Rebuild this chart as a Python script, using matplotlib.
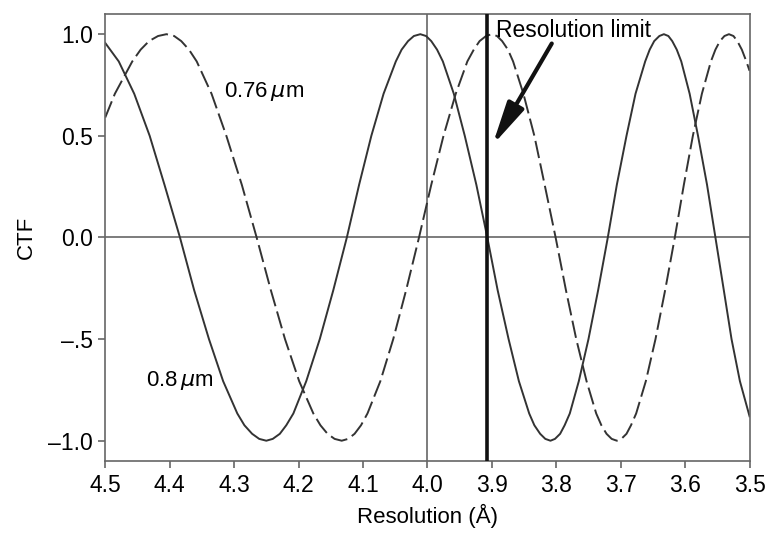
import matplotlib.pyplot as plt

plt.rcParams['font.family'] = ['Liberation Sans', 'DejaVu Sans']

# CTF curves (resolution in Angstrom, CTF value)
res_08 = [4.500, 4.479, 4.455, 4.431, 4.408, 4.384,
          4.362, 4.339, 4.317, 4.295, 4.284, 4.272, 4.261, 4.250,
          4.240, 4.229, 4.219, 4.208, 4.188, 4.167, 4.146, 4.125,
          4.106, 4.087, 4.068, 4.049, 4.040, 4.030, 4.021, 4.011,
          4.002, 3.994, 3.985, 3.976, 3.959, 3.942, 3.924, 3.907,
          3.891, 3.874, 3.858, 3.842, 3.834, 3.825, 3.817, 3.809,
          3.802, 3.794, 3.787, 3.779, 3.765, 3.750, 3.735, 3.720,
          3.706, 3.691, 3.677, 3.662, 3.655, 3.648, 3.640, 3.633,
          3.626, 3.620, 3.613, 3.606, 3.593, 3.580, 3.566, 3.553,
          3.540, 3.528, 3.515, 3.500]
ctf_08 = [0.957, 0.866, 0.707, 0.500, 0.259, 0.0,
          -0.259, -0.500, -0.707, -0.866, -0.924, -0.966, -0.991, -1.0,
          -0.991, -0.966, -0.924, -0.866, -0.707, -0.500, -0.259, 0.0,
          0.259, 0.500, 0.707, 0.866, 0.924, 0.966, 0.991, 1.0,
          0.991, 0.966, 0.924, 0.866, 0.707, 0.500, 0.259, 0.0,
          -0.259, -0.500, -0.707, -0.866, -0.924, -0.966, -0.991, -1.0,
          -0.991, -0.966, -0.924, -0.866, -0.707, -0.500, -0.259, 0.0,
          0.259, 0.500, 0.707, 0.866, 0.924, 0.966, 0.991, 1.0,
          0.991, 0.966, 0.924, 0.866, 0.707, 0.500, 0.259, 0.0,
          -0.259, -0.500, -0.707, -0.880]

res_076 = [4.500, 4.485, 4.458, 4.445, 4.432, 4.418, 4.405,
           4.393, 4.382, 4.370, 4.358, 4.335, 4.312, 4.288, 4.265,
           4.243, 4.221, 4.199, 4.177, 4.166, 4.155, 4.144, 4.133,
           4.123, 4.113, 4.103, 4.093, 4.073, 4.053, 4.033, 4.013,
           3.994, 3.975, 3.956, 3.938, 3.928, 3.919, 3.909, 3.900,
           3.892, 3.884, 3.875, 3.867, 3.851, 3.834, 3.818, 3.801,
           3.785, 3.769, 3.753, 3.738, 3.730, 3.722, 3.714, 3.706,
           3.699, 3.691, 3.684, 3.676, 3.661, 3.646, 3.631, 3.616,
           3.602, 3.588, 3.574, 3.560, 3.553, 3.546, 3.539, 3.532,
           3.525, 3.519, 3.512, 3.505, 3.500]
ctf_076 = [0.590, 0.707, 0.866, 0.924, 0.966, 0.991, 1.0,
           0.991, 0.966, 0.924, 0.866, 0.707, 0.500, 0.259, 0.0,
           -0.259, -0.500, -0.707, -0.866, -0.924, -0.966, -0.991, -1.0,
           -0.991, -0.966, -0.924, -0.866, -0.707, -0.500, -0.259, 0.0,
           0.259, 0.500, 0.707, 0.866, 0.924, 0.966, 0.991, 1.0,
           0.991, 0.966, 0.924, 0.866, 0.707, 0.500, 0.259, 0.0,
           -0.259, -0.500, -0.707, -0.866, -0.924, -0.966, -0.991, -1.0,
           -0.991, -0.966, -0.924, -0.866, -0.707, -0.500, -0.259, 0.0,
           0.259, 0.500, 0.707, 0.866, 0.924, 0.966, 0.991, 1.0,
           0.991, 0.966, 0.924, 0.866, 0.820]

res_limit = 3.907
x_ticks = [4.5, 4.4, 4.3, 4.2, 4.1, 4.0, 3.9, 3.8, 3.7, 3.6, 3.5]
y_ticks = [1.0, 0.5, 0.0, -0.5, -1.0]
y_tick_labels = ['1.0', '0.5', '0.0', '\u2013.5', '\u20131.0']

line_col = '#333333'
axis_col = '#666666'

fig = plt.figure(figsize=(7.68, 5.33), dpi=100)
ax = fig.add_axes([0.137, 0.135, 0.839, 0.839])

ax.axhline(0.0, color=axis_col, lw=1.2, zorder=1)
ax.axvline(4.0, color=axis_col, lw=1.2, zorder=1)
ax.axvline(res_limit, color='#111111', lw=2.6, zorder=3)

ax.plot(res_08, ctf_08, color=line_col, lw=1.4, zorder=2,
        solid_joinstyle='round')
ax.plot(res_076, ctf_076, color=line_col, lw=1.4, linestyle=(0, (9.0, 2.8)),
        zorder=2, dash_joinstyle='round')

ax.text(4.316, 0.716, r'0.76$\,\mu$m', fontsize=16, va='center', ha='left')
ax.text(4.437, -0.705, r'0.8$\,\mu$m', fontsize=16, va='center', ha='left')

ax.annotate('', xy=(3.899, 0.454), xytext=(3.807, 0.954),
            arrowprops=dict(arrowstyle='-|>,head_length=2.6,head_width=0.55',
                            color='#111111', lw=3.0, shrinkA=0, shrinkB=0),
            zorder=4)
ax.text(3.894, 1.02, 'Resolution limit', fontsize=16.5, va='center', ha='left')

ax.set_xlim(4.5, 3.5)
ax.set_ylim(-1.1, 1.1)
ax.set_xticks(x_ticks)
ax.set_xticklabels(['%.1f' % t for t in x_ticks])
ax.set_yticks(y_ticks)
ax.set_yticklabels(y_tick_labels)
ax.tick_params(direction='out', length=5, width=1.2, color=axis_col,
               labelsize=16.5, pad=4)
for s in ax.spines.values():
    s.set_color(axis_col)
    s.set_linewidth(1.2)

ax.set_xlabel('Resolution (\u00c5)', fontsize=16, labelpad=5)
ax.set_ylabel('CTF', fontsize=16, labelpad=8)

fig.savefig('out.png', dpi=100)
